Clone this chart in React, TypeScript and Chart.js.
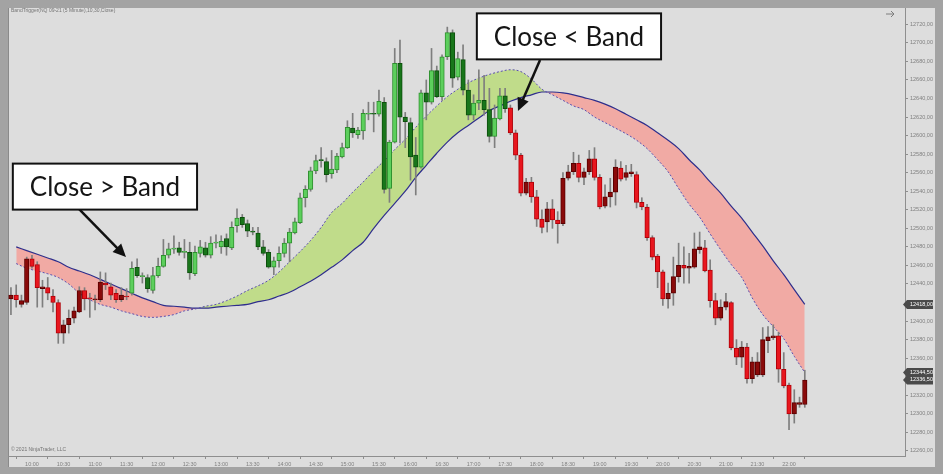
import React, { useEffect, useRef } from 'react';
import { Chart, registerables } from 'chart.js';

Chart.register(...registerables);

// ---- data ----
const firstBarTime = '09:40';
const barMinutes = 5;

const opens = [
  12424, 12428, 12418, 12420, 12467, 12461, 12435, 12436, 12427, 12420,
  12387, 12396, 12403, 12410, 12433, 12425, 12423, 12423, 12441, 12437,
  12430, 12423, 12427, 12430, 12458, 12448, 12447, 12433, 12449, 12459,
  12471, 12477.5, 12479, 12474, 12474, 12451, 12473, 12479, 12471, 12484,
  12480, 12489, 12479, 12503, 12512, 12505, 12497, 12495, 12480, 12474,
  12458, 12465, 12473, 12484, 12495, 12506, 12533, 12542, 12562, 12574,
  12572, 12559, 12563, 12577, 12587, 12608, 12601, 12605, 12623, 12624,
  12623, 12636, 12543, 12593, 12678, 12620, 12614, 12579, 12566, 12646,
  12636, 12670, 12642, 12685, 12711, 12663, 12682, 12649, 12622, 12635,
  12638, 12628, 12599, 12618, 12643, 12630, 12603, 12579, 12538, 12550,
  12534, 12510, 12507, 12521, 12509, 12505, 12554, 12561, 12570, 12555,
  12561, 12575, 12555, 12524, 12534, 12539, 12565, 12555, 12559, 12558,
  12528, 12523, 12490, 12470, 12453, 12424, 12430, 12448, 12460, 12457,
  12458, 12477, 12479, 12455, 12422, 12403, 12415, 12420, 12371, 12361,
  12372, 12338, 12342, 12342, 12379, 12382, 12384, 12348, 12331, 12300,
  12310, 12310,
];

const highs = [
  12436, 12439, 12428, 12469, 12471, 12464, 12444, 12447, 12434, 12423,
  12401, 12412, 12415, 12437, 12436, 12430, 12428, 12453, 12452, 12441,
  12434, 12436, 12435, 12464, 12467, 12452, 12450, 12458, 12468, 12488,
  12484, 12492, 12485, 12488, 12485, 12481, 12487, 12485, 12491, 12493,
  12492, 12494, 12507, 12521, 12515, 12509, 12501, 12501, 12487, 12477,
  12469, 12480, 12489, 12500, 12511, 12538, 12546, 12566, 12579, 12587,
  12576, 12584, 12581, 12592, 12616, 12624, 12609, 12628, 12636, 12636,
  12649, 12641, 12595, 12694, 12703, 12625, 12619, 12598, 12649, 12660,
  12694, 12675, 12687, 12717, 12714, 12690, 12698, 12660, 12644, 12671,
  12665, 12651, 12633, 12651, 12651, 12633, 12606, 12581, 12554, 12555,
  12541, 12520, 12528, 12531, 12518, 12560, 12568, 12582, 12579, 12565,
  12584, 12587, 12558, 12547, 12554, 12574, 12572, 12568, 12569, 12561,
  12533, 12526, 12492, 12472, 12455, 12441, 12469, 12484, 12480, 12473,
  12495, 12496, 12487, 12466, 12430, 12423, 12430, 12421, 12380, 12378,
  12376, 12361, 12366, 12393, 12394, 12396, 12388, 12366, 12333, 12326,
  12318, 12347,
];

const lows = [
  12407, 12415, 12415, 12418, 12457, 12415, 12415, 12423, 12410, 12376,
  12376, 12387, 12398, 12409, 12412, 12404, 12412, 12421, 12434, 12423,
  12420, 12421, 12423, 12428, 12447, 12441, 12431, 12430, 12447, 12458,
  12468, 12473, 12471, 12468, 12445, 12449, 12469, 12469, 12468, 12479,
  12473, 12471, 12477, 12496, 12501, 12491, 12493, 12477, 12471, 12457,
  12450, 12458, 12469, 12464, 12494, 12505, 12523, 12540, 12559, 12566,
  12550, 12554, 12560, 12576, 12586, 12598, 12597, 12596, 12617, 12604,
  12621, 12538, 12528, 12592, 12592, 12587, 12552, 12536, 12565, 12617,
  12634, 12641, 12638, 12682, 12652, 12660, 12644, 12617, 12617, 12628,
  12622, 12593, 12587, 12617, 12625, 12601, 12574, 12535, 12536, 12528,
  12502, 12495, 12496, 12500, 12484, 12503, 12552, 12558, 12550, 12547,
  12558, 12552, 12521, 12522, 12523, 12525, 12551, 12552, 12556, 12522,
  12520, 12487, 12466, 12436, 12417, 12414, 12417, 12442, 12441, 12441,
  12457, 12473, 12453, 12415, 12396, 12401, 12412, 12369, 12353, 12350,
  12333, 12333, 12340, 12340, 12366, 12380, 12334, 12328, 12283, 12290,
  12307, 12307,
];

const closes = [
  12428, 12423, 12422, 12467, 12459, 12436, 12437, 12430, 12420, 12387,
  12396, 12403, 12411, 12433, 12424, 12424, 12424, 12442, 12439, 12428,
  12423, 12428, 12426, 12457, 12449, 12449, 12435, 12449, 12459, 12471,
  12478, 12478.5, 12474, 12475, 12452, 12474, 12480, 12471, 12484, 12485,
  12486, 12480, 12501, 12511, 12504, 12497, 12496, 12480, 12473, 12458,
  12465, 12473, 12484, 12496, 12507, 12533, 12542, 12562, 12573, 12573,
  12558, 12564, 12578, 12587, 12609, 12603, 12606, 12624, 12624, 12623,
  12637, 12542, 12593, 12678, 12620, 12615, 12577, 12566, 12646, 12636,
  12670, 12642, 12685, 12711, 12662, 12683, 12649, 12622, 12635, 12638,
  12628, 12599, 12619, 12643, 12629, 12603, 12579, 12538, 12550, 12534,
  12510, 12501, 12521, 12509, 12505, 12554, 12561, 12570, 12555, 12561,
  12575, 12555, 12523, 12534, 12539, 12566, 12553, 12560, 12561, 12528,
  12523, 12490, 12469, 12453, 12424, 12430, 12448, 12460, 12457, 12459,
  12478, 12480, 12454, 12422, 12403, 12415, 12421, 12371, 12361, 12372,
  12338, 12356, 12356, 12380, 12383, 12384, 12348, 12330, 12300, 12312,
  12312, 12336.5,
];

// band lines, sampled on every second bar starting at bar 1
const bandFirstBar = 1;
const bandEvery = 2;
const slowBand = [
  12480, 12476, 12472, 12468, 12464, 12458, 12454, 12450, 12445, 12440,
  12435, 12430, 12425, 12421, 12417, 12416, 12415, 12414, 12414, 12415,
  12416, 12417, 12418, 12421, 12423, 12427, 12431, 12437, 12443, 12450,
  12458, 12466, 12476, 12485, 12500, 12514, 12527, 12540, 12555, 12568,
  12581, 12593, 12603, 12611, 12619, 12627, 12632, 12637, 12641, 12644,
  12647, 12647, 12646, 12644, 12641, 12638, 12634, 12629, 12623, 12617,
  12611, 12603, 12595, 12586, 12574, 12563, 12550, 12538, 12524, 12511,
  12496, 12481, 12465, 12450, 12434, 12418,
];
const fastBand = [
  12462, 12457, 12454, 12451, 12447, 12440, 12430, 12423, 12418, 12415,
  12411, 12408, 12405, 12404, 12405, 12407, 12411, 12413, 12416, 12418,
  12422, 12427, 12433, 12438, 12444, 12453, 12464, 12475, 12487, 12501,
  12517, 12527, 12539, 12550, 12562, 12573, 12585, 12596, 12609, 12621,
  12632, 12642, 12650, 12657, 12662, 12666, 12669, 12671, 12669, 12661,
  12650, 12644, 12638, 12632, 12628, 12620, 12614, 12608, 12602, 12595,
  12586, 12574, 12561, 12543, 12526, 12512, 12494, 12477, 12461, 12447,
  12425, 12407, 12394, 12381, 12362, 12344.5,
];

// bars where the close crossed the band (trend state changes)
const trendStarts = [
  { bar: 0, bull: false },
  { bar: 23, bull: true },
  { bar: 95, bull: false },
];

const timeTickLabels = [
  '10:00', '10:30', '11:00', '11:30', '12:00', '12:30', '13:00', '13:30',
  '14:00', '14:30', '15:00', '15:30', '16:00', '16:30', '17:00', '17:30',
  '18:00', '18:30', '19:00', '19:30', '20:00', '20:30', '21:00', '21:30', '22:00',
];
const priceTicks = [
  12720, 12700, 12680, 12660, 12640, 12620, 12600, 12580, 12560, 12540, 12520, 12500,
  12480, 12460, 12440, 12420, 12400, 12380, 12360, 12340, 12320, 12300, 12280, 12260,
];

const viewStartMinute = 577.2;
const viewEndMinute = 1430.3;
const viewLowPrice = 12254.5;
const viewHighPrice = 12737.6;

const callouts = [
  {
    text: 'Close > Band',
    boxMinute: 669.4, boxPrice: 12545,
    fromMinute: 643.7, fromPrice: 12522,
    toMinute: 689.4, toPrice: 12469,
  },
  {
    text: 'Close < Band',
    boxMinute: 1110.7, boxPrice: 12707,
    fromMinute: 1083.2, fromPrice: 12681.5,
    toMinute: 1062.2, toPrice: 12626.5,
  },
];

const headerText = 'BandTrigger(NQ 09-21 (5 Minute),10,30,Close)';
const copyrightText = '\u00A9 2021 NinjaTrader, LLC';

// ---- helpers ----
const toMinutes = (s: string) => {
  const [h, m] = s.split(':').map(Number);
  return h * 60 + m;
};
const fmtTime = (v: number) => {
  const h = Math.floor(v / 60);
  const m = Math.round(v - h * 60);
  return `${String(h).padStart(2, '0')}:${String(m).padStart(2, '0')}`;
};
const fmtPrice = (v: number) => v.toFixed(2).replace('.', ',');

const startMinute = toMinutes(firstBarTime);
const barTime = (i: number) => startMinute + i * barMinutes;

const isBull = (i: number) => {
  let bull = false;
  for (const t of trendStarts) if (i >= t.bar) bull = t.bull;
  return bull;
};

const COLORS = {
  frame: '#a3a3a3',
  panel: '#dddddd',
  axis: '#8e8e8e',
  tickText: '#808080',
  wick: '#7e7e7e',
  bullUp: '#5ccf5c', bullUpBorder: '#2f8f2f',
  bullDown: '#18761a', bullDownBorder: '#0d4f0d',
  bearDown: '#e8161e', bearDownBorder: '#b00008',
  bearUp: '#8a0a0a', bearUpBorder: '#5a0000',
  slowLine: '#2e2e8c',
  fastLine: '#5b4fb0',
  bullFill: '#c0dc8a',
  bearFill: '#f1aaa4',
};

const bodyColor = (i: number) => {
  const up = closes[i] >= opens[i];
  if (isBull(i)) return up ? [COLORS.bullUp, COLORS.bullUpBorder] : [COLORS.bullDown, COLORS.bullDownBorder];
  return up ? [COLORS.bearUp, COLORS.bearUpBorder] : [COLORS.bearDown, COLORS.bearDownBorder];
};

const overlayPlugin = {
  id: 'overlay',
  beforeDraw(chart: any) {
    const { ctx, width, height } = chart;
    ctx.save();
    ctx.fillStyle = COLORS.frame;
    ctx.fillRect(0, 0, width, height);
    ctx.fillStyle = COLORS.panel;
    ctx.fillRect(8, 8, width - 16, height - 15);
    ctx.fillStyle = '#8a8a8a';
    ctx.fillRect(8, 8, 1, height - 15);
    ctx.restore();
  },
  afterDraw(chart: any) {
    const { ctx, chartArea } = chart;
    const xs = chart.scales.x;
    const ys = chart.scales.y;
    ctx.save();

    // header + copyright
    ctx.font = '5px "Liberation Sans"';
    ctx.fillStyle = '#747474';
    ctx.textBaseline = 'middle';
    ctx.textAlign = 'left';
    ctx.fillText(headerText, chartArea.left + 3, chartArea.top + 3);
    ctx.fillText(copyrightText, chartArea.left + 3, chartArea.bottom - 6);

    // scroll arrow icon
    ctx.strokeStyle = '#7c7c7c';
    ctx.lineWidth = 1;
    ctx.beginPath();
    const ax = chartArea.right - 15;
    const ay = chartArea.top + 6;
    ctx.moveTo(ax - 4, ay);
    ctx.lineTo(ax + 4, ay);
    ctx.moveTo(ax + 1, ay - 3);
    ctx.lineTo(ax + 4, ay);
    ctx.lineTo(ax + 1, ay + 3);
    ctx.stroke();

    // price markers on the axis
    const markers = [slowBand[slowBand.length - 1], fastBand[fastBand.length - 1], closes[closes.length - 1]];
    ctx.font = '5.5px "Liberation Sans"';
    for (const v of markers) {
      const py = ys.getPixelForValue(v);
      const left = chartArea.right;
      ctx.beginPath();
      ctx.moveTo(left - 2, py);
      ctx.lineTo(left + 2, py - 4.5);
      ctx.lineTo(left + 28, py - 4.5);
      ctx.lineTo(left + 28, py + 4.5);
      ctx.lineTo(left + 2, py + 4.5);
      ctx.closePath();
      ctx.fillStyle = '#4a4a4a';
      ctx.fill();
      ctx.fillStyle = '#ffffff';
      ctx.fillText(fmtPrice(v), left + 5, py);
    }

    // callouts
    for (const c of callouts) {
      const x1 = xs.getPixelForValue(c.fromMinute);
      const y1 = ys.getPixelForValue(c.fromPrice);
      const x2 = xs.getPixelForValue(c.toMinute);
      const y2 = ys.getPixelForValue(c.toPrice);
      const ang = Math.atan2(y2 - y1, x2 - x1);
      const cos = Math.cos(ang);
      const sin = Math.sin(ang);
      const headLen = 13;
      const headW = 6;
      ctx.strokeStyle = '#111111';
      ctx.fillStyle = '#111111';
      ctx.lineWidth = 2.5;
      ctx.beginPath();
      ctx.moveTo(x1, y1);
      ctx.lineTo(x2 - cos * headLen * 0.8, y2 - sin * headLen * 0.8);
      ctx.stroke();
      ctx.beginPath();
      ctx.moveTo(x2, y2);
      ctx.lineTo(x2 - headLen * cos + headW * sin, y2 - headLen * sin - headW * cos);
      ctx.lineTo(x2 - headLen * cos - headW * sin, y2 - headLen * sin + headW * cos);
      ctx.closePath();
      ctx.fill();

      ctx.font = '26px Lato';
      const tw = ctx.measureText(c.text).width;
      const bw = tw + 34;
      const bh = 46;
      const cx = xs.getPixelForValue(c.boxMinute);
      const cy = ys.getPixelForValue(c.boxPrice);
      ctx.fillStyle = '#ffffff';
      ctx.fillRect(cx - bw / 2, cy - bh / 2, bw, bh);
      ctx.lineWidth = 2;
      ctx.strokeStyle = '#111111';
      ctx.strokeRect(cx - bw / 2, cy - bh / 2, bw, bh);
      ctx.fillStyle = '#151515';
      ctx.textAlign = 'center';
      ctx.textBaseline = 'middle';
      ctx.fillText(c.text, cx, cy + 1);
      ctx.textAlign = 'left';
    }
    ctx.restore();
  },
};

export default function App() {
  const ref = useRef<HTMLCanvasElement>(null);

  useEffect(() => {
    const canvas = ref.current;
    if (!canvas) return;

    const wickData = opens.map((_, i) => ({ x: barTime(i), y: [lows[i], highs[i]] }));
    const bodyData = opens.map((o, i) => ({ x: barTime(i), y: [o, closes[i]] }));
    const bodyFill = opens.map((_, i) => bodyColor(i)[0]);
    const bodyBorder = opens.map((_, i) => bodyColor(i)[1]);
    const bandTimes = slowBand.map((_, k) => barTime(bandFirstBar + k * bandEvery));
    const slowData = slowBand.map((v, k) => ({ x: bandTimes[k], y: v }));
    const fastData = fastBand.map((v, k) => ({ x: bandTimes[k], y: v }));

    const tickFont = { family: '"Liberation Sans", Arial, sans-serif', size: 5.5 };

    const chart = new Chart(canvas, {
      type: 'bar',
      data: {
        datasets: [
          {
            type: 'line',
            label: 'Slow',
            data: slowData,
            borderColor: COLORS.slowLine,
            borderWidth: 1.2,
            pointRadius: 0,
            cubicInterpolationMode: 'monotone',
            fill: false,
            order: 3,
          } as any,
          {
            type: 'line',
            label: 'Fast',
            data: fastData,
            borderColor: COLORS.fastLine,
            borderWidth: 1,
            borderDash: [2, 2],
            pointRadius: 0,
            cubicInterpolationMode: 'monotone',
            fill: { target: '-1', above: COLORS.bullFill, below: COLORS.bearFill },
            order: 2,
          } as any,
          {
            label: 'Wick',
            data: wickData,
            backgroundColor: COLORS.wick,
            borderWidth: 0,
            grouped: false,
            maxBarThickness: 1,
            barPercentage: 1,
            categoryPercentage: 1,
            order: 1,
          } as any,
          {
            label: 'Body',
            data: bodyData,
            backgroundColor: bodyFill,
            borderColor: bodyBorder,
            borderWidth: 1,
            borderSkipped: false,
            grouped: false,
            maxBarThickness: 4.5,
            barPercentage: 1,
            categoryPercentage: 1,
            minBarLength: 1,
            order: 0,
          } as any,
        ],
      },
      options: {
        responsive: false,
        animation: false,
        devicePixelRatio: 1,
        layout: { padding: { left: 8, top: 8, right: 10, bottom: 7 } },
        plugins: {
          legend: { display: false },
          tooltip: { enabled: false },
          filler: { drawTime: 'beforeDatasetsDraw' },
        } as any,
        scales: {
          x: {
            type: 'linear',
            position: 'bottom',
            min: viewStartMinute,
            max: viewEndMinute,
            offset: false,
            afterBuildTicks: (s: any) => {
              s.ticks = timeTickLabels.map((l) => ({ value: toMinutes(l) }));
            },
            afterFit: (s: any) => {
              s.height = 11;
            },
            ticks: {
              callback: (v: any) => fmtTime(Number(v)),
              font: tickFont,
              color: COLORS.tickText,
              padding: 2,
              autoSkip: false,
              maxRotation: 0,
            },
            grid: { drawOnChartArea: false, drawTicks: true, tickLength: 3, color: COLORS.axis },
            border: { display: true, color: COLORS.axis },
          },
          y: {
            type: 'linear',
            position: 'right',
            min: viewLowPrice,
            max: viewHighPrice,
            afterBuildTicks: (s: any) => {
              s.ticks = priceTicks.map((v) => ({ value: v }));
            },
            afterFit: (s: any) => {
              s.width = 28;
            },
            ticks: {
              callback: (v: any) => fmtPrice(Number(v)),
              font: tickFont,
              color: COLORS.tickText,
              padding: 2,
              autoSkip: false,
            },
            grid: { drawOnChartArea: false, drawTicks: true, tickLength: 3, color: COLORS.axis },
            border: { display: true, color: COLORS.axis },
          },
        },
      } as any,
      plugins: [overlayPlugin],
    });

    return () => chart.destroy();
  }, []);

  return (
    <div style={{ position: 'fixed', left: 0, top: 0, width: 943, height: 474 }}>
      <canvas ref={ref} width={943} height={474} style={{ display: 'block', width: 943, height: 474 }} />
    </div>
  );
}
